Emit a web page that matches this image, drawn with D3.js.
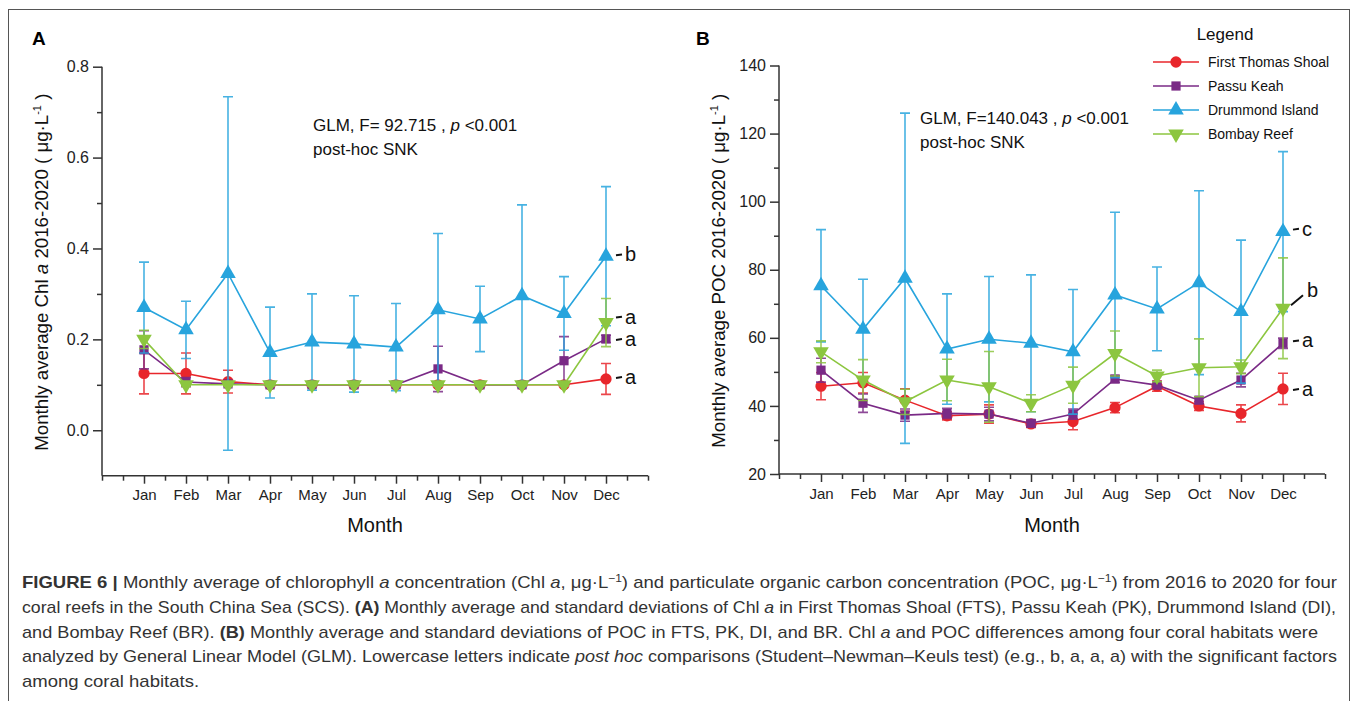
<!DOCTYPE html>
<html>
<head>
<meta charset="utf-8">
<script src="https://cdn.jsdelivr.net/npm/d3@7"></script>
<style>
  body { margin: 0; background: #fff; }
  svg { display: block; font-family: "Liberation Sans", Arial, sans-serif; }
  .axis path, .axis line { stroke: #333; stroke-width: 1.5; }
  .axis text { fill: #222; }
</style>
</head>
<body>
<div id="chart"></div>
<script>
const months = ['Jan', 'Feb', 'Mar', 'Apr', 'May', 'Jun', 'Jul', 'Aug', 'Sep', 'Oct', 'Nov', 'Dec'];
const sites = ['First Thomas Shoal', 'Passu Keah', 'Drummond Island', 'Bombay Reef'];

// Panel A: Chl a (ug/L), mean and SD
const chlFTS = [0.125, 0.125, 0.107, 0.100, 0.100, 0.100, 0.100, 0.100, 0.100, 0.100, 0.100, 0.113];
const chlFTSsd = [0.045, 0.045, 0.025, 0.003, 0.003, 0.003, 0.003, 0.003, 0.003, 0.003, 0.003, 0.034];
const chlPK = [0.177, 0.106, 0.102, 0.100, 0.100, 0.100, 0.100, 0.135, 0.100, 0.100, 0.153, 0.201];
const chlPKsd = [0.042, 0.010, 0.005, 0.003, 0.003, 0.003, 0.003, 0.050, 0.003, 0.003, 0.053, 0.008];
const chlDI = [0.270, 0.221, 0.345, 0.171, 0.194, 0.190, 0.183, 0.265, 0.245, 0.296, 0.257, 0.383];
const chlDIsd = [0.100, 0.063, 0.389, 0.100, 0.106, 0.106, 0.096, 0.168, 0.072, 0.200, 0.081, 0.153];
const chlBR = [0.200, 0.100, 0.100, 0.100, 0.100, 0.100, 0.100, 0.100, 0.100, 0.100, 0.100, 0.237];
const chlBRsd = [0.020, 0.003, 0.003, 0.003, 0.003, 0.003, 0.003, 0.003, 0.003, 0.003, 0.003, 0.053];

// Panel B: POC (ug/L), mean and SD
const pocFTS = [45.8, 46.8, 41.7, 37.1, 37.6, 34.7, 35.4, 39.5, 45.8, 40.0, 37.8, 45.0];
const pocFTSsd = [4.0, 3.0, 3.3, 1.2, 2.7, 1.0, 2.4, 1.5, 1.5, 1.3, 2.5, 4.6];
const pocPK = [50.5, 40.8, 37.3, 37.8, 37.6, 34.9, 37.6, 47.9, 46.1, 41.7, 47.6, 58.4];
const pocPKsd = [3.5, 2.7, 1.8, 1.5, 2.0, 1.0, 1.5, 1.0, 1.0, 1.0, 2.0, 1.5];
const pocDI = [75.3, 62.5, 77.5, 56.7, 59.6, 58.4, 55.9, 72.6, 68.5, 76.2, 67.7, 91.2];
const pocDIsd = [16.5, 14.7, 48.5, 16.2, 18.4, 20.1, 18.3, 24.3, 12.3, 27.0, 21.0, 23.5];
const pocBR = [55.9, 47.6, 41.2, 47.6, 45.6, 40.8, 46.1, 55.4, 48.8, 51.2, 51.5, 68.7];
const pocBRsd = [3.2, 6.0, 3.7, 6.1, 10.4, 2.5, 5.3, 6.6, 1.7, 8.5, 2.0, 14.8];

// SNK letters at Dec (FTS, PK, DI, BR)
const chlLetters = ['a', 'a', 'b', 'a'];
const pocLetters = ['a', 'a', 'c', 'b'];

const colors = ['#e8262b', '#7a2a86', '#27a4dd', '#8cc63f'];
const symbols = [d3.symbolCircle, d3.symbolSquare, d3.symbolTriangle, d3.symbolTriangle];
const FONT = '"Liberation Sans", Arial, sans-serif';

const W = 1357, H = 701;
const svg = d3.select('#chart').append('svg').attr('width', W).attr('height', H);

svg.append('rect').attr('x', 8.5).attr('y', 9.5).attr('width', 1341).attr('height', 700)
  .attr('fill', 'none').attr('stroke', '#555').attr('stroke-width', 1);

function marker(g, i, x, y) {
  const p = g.append('path')
    .attr('d', d3.symbol().type(symbols[i]).size(i === 0 ? 100 : (i === 1 ? 85 : 105))())
    .attr('fill', colors[i]);
  p.attr('transform', `translate(${x},${y})` + (i === 3 ? ' rotate(180)' : ''));
}

function panel(opts) {
  const g = svg.append('g');
  const x = d3.scaleLinear().domain([0, 13]).range([opts.left, opts.left + 546]);
  const y = d3.scaleLinear().domain(opts.yDomain).range([opts.bottom, opts.top]);

  // x axis: labelled months + half-month minor ticks
  g.append('g').attr('class', 'axis').attr('transform', `translate(0,${opts.bottom})`)
    .call(d3.axisBottom(x).tickValues(d3.range(0.5, 13, 1).concat([0, 13])).tickSize(5).tickFormat(''))
    .call(a => a.select('.domain').attr('d', `M${x(0)},0H${x(13)}`));
  g.append('g').attr('class', 'axis').attr('transform', `translate(0,${opts.bottom})`)
    .call(d3.axisBottom(x).tickValues(d3.range(1, 13)).tickSize(8).tickPadding(6)
      .tickFormat(d => months[d - 1]))
    .attr('font-family', FONT)
    .call(a => a.select('.domain').remove())
    .selectAll('text').attr('font-size', 15);

  // y axis
  g.append('g').attr('class', 'axis').attr('transform', `translate(${opts.left},0)`)
    .call(d3.axisLeft(y).tickValues(opts.minor).tickSize(5).tickFormat(''))
    .call(a => a.select('.domain').attr('d', `M0,${opts.bottom}V${opts.top}`));
  g.append('g').attr('class', 'axis').attr('transform', `translate(${opts.left},0)`)
    .call(d3.axisLeft(y).tickValues(opts.major).tickSize(9).tickPadding(4).tickFormat(opts.fmt))
    .attr('font-family', FONT)
    .call(a => a.select('.domain').remove())
    .selectAll('text').attr('font-size', 16);

  // series
  const line = d3.line().x((d, i) => x(i + 1)).y(d => y(d));
  opts.series.forEach((s, i) => {
    const sg = g.append('g');
    s.mean.forEach((m, j) => {
      const cx = x(j + 1), y0 = y(m - s.sd[j]), y1 = y(m + s.sd[j]);
      sg.append('path')
        .attr('d', `M${cx},${y0}V${y1}M${cx - 5},${y0}H${cx + 5}M${cx - 5},${y1}H${cx + 5}`)
        .attr('stroke', colors[i]).attr('stroke-width', 1.6).attr('fill', 'none').attr('opacity', 0.85);
    });
    sg.append('path').datum(s.mean).attr('d', line)
      .attr('fill', 'none').attr('stroke', colors[i]).attr('stroke-width', 1.6);
    s.mean.forEach((m, j) => marker(sg, i, x(j + 1), y(m)));
  });

  // SNK letters beside December
  opts.series.forEach((s, i) => {
    const ly = y(s.mean[11]) + opts.letterDy[i];
    const lx = x(12) + 16;
    if (opts.slant && opts.slant[i]) {
      g.append('line').attr('x1', x(12) + 8).attr('y1', y(s.mean[11]) - 3)
        .attr('x2', x(12) + 20).attr('y2', y(s.mean[11]) - 13)
        .attr('stroke', '#111').attr('stroke-width', 2);
      g.append('text').attr('x', x(12) + 24).attr('y', ly + 7).attr('font-size', 20)
        .attr('fill', '#111').text(opts.letters[i]);
    } else {
      g.append('line').attr('x1', lx - 6).attr('y1', ly).attr('x2', lx).attr('y2', ly - 0.8)
        .attr('stroke', '#111').attr('stroke-width', 2);
      g.append('text').attr('x', lx + 3).attr('y', ly + 6).attr('font-size', 20)
        .attr('fill', '#111').text(opts.letters[i]);
    }
  });

  // labels
  g.append('text').attr('x', opts.panelX).attr('y', 45).attr('font-size', 19)
    .attr('font-weight', 'bold').text(opts.panel);
  g.append('text').attr('x', x(6.5)).attr('y', 532).attr('text-anchor', 'middle')
    .attr('font-size', 20).attr('fill', '#111').text('Month');
  g.append('text').attr('transform', `translate(${opts.left - 54},${(opts.top + opts.bottom) / 2 + 1}) rotate(-90)`)
    .attr('text-anchor', 'middle').attr('font-size', 18.7).attr('fill', '#111')
    .html(opts.ytitle);
  const st = g.append('text').attr('x', opts.statX).attr('y', opts.statY).attr('font-size', 17).attr('fill', '#111');
  st.html(opts.stat);
  g.append('text').attr('x', opts.statX).attr('y', opts.statY + 24).attr('font-size', 17)
    .attr('fill', '#111').text('post-hoc SNK');
  return g;
}

panel({
  panel: 'A', panelX: 32, left: 102, top: 66.7, bottom: 475.7,
  yDomain: [-0.1, 0.8], major: [0, 0.2, 0.4, 0.6, 0.8], minor: [0.1, 0.3, 0.5, 0.7],
  fmt: d3.format('.1f'),
  series: [
    { mean: chlFTS, sd: chlFTSsd }, { mean: chlPK, sd: chlPKsd },
    { mean: chlDI, sd: chlDIsd }, { mean: chlBR, sd: chlBRsd }
  ],
  letters: chlLetters, letterDy: [-1, 1, -1, -5],
  ytitle: 'Monthly average Chl <tspan font-style="italic">a</tspan> 2016-2020 ( μg·L<tspan dy="-7" font-size="11">-1</tspan><tspan dy="7"> )</tspan>',
  stat: 'GLM, F= 92.715 , <tspan font-style="italic">p</tspan> &lt;0.001', statX: 313, statY: 131
});

panel({
  panel: 'B', panelX: 696, left: 779, top: 65.5, bottom: 474,
  yDomain: [20, 140], major: [20, 40, 60, 80, 100, 120, 140], minor: [30, 50, 70, 90, 110, 130],
  fmt: d3.format('d'),
  series: [
    { mean: pocFTS, sd: pocFTSsd }, { mean: pocPK, sd: pocPKsd },
    { mean: pocDI, sd: pocDIsd }, { mean: pocBR, sd: pocBRsd }
  ],
  letters: pocLetters, letterDy: [1, -2, -2, -18], slant: [false, false, false, true],
  ytitle: 'Monthly average POC 2016-2020 ( μg·L<tspan dy="-7" font-size="11">-1</tspan><tspan dy="7"> )</tspan>',
  stat: 'GLM, F=140.043 , <tspan font-style="italic">p</tspan> &lt;0.001', statX: 920, statY: 124
});

// legend
const lg = svg.append('g');
lg.append('text').attr('x', 1225).attr('y', 40).attr('text-anchor', 'middle')
  .attr('font-size', 17).attr('fill', '#111').text('Legend');
const legY = d3.scalePoint().domain(sites).range([62, 134]);
sites.forEach((s, i) => {
  const ly = legY(s);
  lg.append('line').attr('x1', 1153).attr('x2', 1199).attr('y1', ly).attr('y2', ly)
    .attr('stroke', colors[i]).attr('stroke-width', 1.6);
  marker(lg, i, 1176, ly);
  lg.append('text').attr('x', 1208).attr('y', ly + 5).attr('font-size', 14)
    .attr('fill', '#111').text(s);
});

// caption: one horizontal compression for all lines, lines 1-4 stretched to their measured ends
const capLines = [
  '<tspan font-weight="bold">FIGURE 6 |</tspan> Monthly average of chlorophyll <tspan font-style="italic">a</tspan> concentration (Chl <tspan font-style="italic">a</tspan>, μg·L<tspan dy="-6" font-size="11">−1</tspan><tspan dy="6">) and particulate organic carbon concentration (POC, μg·L</tspan><tspan dy="-6" font-size="11">−1</tspan><tspan dy="6">) from 2016 to 2020 for four</tspan>',
  'coral reefs in the South China Sea (SCS). <tspan font-weight="bold">(A)</tspan> Monthly average and standard deviations of Chl <tspan font-style="italic">a</tspan> in First Thomas Shoal (FTS), Passu Keah (PK), Drummond Island (DI),',
  'and Bombay Reef (BR). <tspan font-weight="bold">(B)</tspan> Monthly average and standard deviations of POC in FTS, PK, DI, and BR. Chl <tspan font-style="italic">a</tspan> and POC differences among four coral habitats were',
  'analyzed by General Linear Model (GLM). Lowercase letters indicate <tspan font-style="italic">post hoc</tspan> comparisons (Student–Newman–Keuls test) (e.g., b, a, a, a) with the significant factors',
  'among coral habitats.'
];
const capWidths = [1315, 1314, 1296, 1315, null];
const capTexts = capLines.map((t, i) => svg.append('text').attr('x', 22).attr('y', 588 + i * 24.8)
  .attr('font-size', 17).attr('fill', '#333').html(t));
const ratio = capWidths[0] / capTexts[0].node().getComputedTextLength();
capTexts.forEach((tx, i) => {
  const w = capWidths[i] || tx.node().getComputedTextLength() * ratio;
  tx.attr('textLength', w).attr('lengthAdjust', 'spacingAndGlyphs');
});
</script>
</body>
</html>
